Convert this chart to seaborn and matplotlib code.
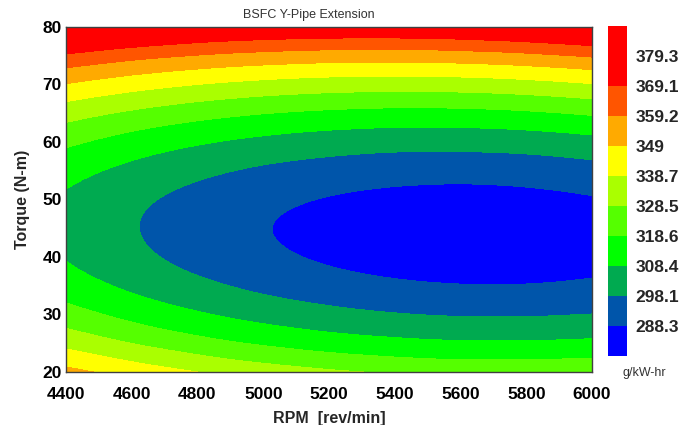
import numpy as np
import pandas as pd
import matplotlib
matplotlib.use("Agg")
import matplotlib.pyplot as plt
import matplotlib.tri as mtri
from matplotlib.colors import ListedColormap, BoundaryNorm
import seaborn as sns

# ---- data (BSFC in g/kW-hr) ----
rpm = [4400, 4600, 4800, 5000, 5200, 5400, 5600, 5800, 6000]
torque = [20, 25, 30, 35, 40, 45, 50, 55, 60, 65, 70, 75, 80]

bsfc_4400 = [352.1, 335.7, 322.8, 313.5, 307.8, 305.6, 307.0, 312.1, 320.6, 332.8, 348.5, 367.8, 390.7]
bsfc_4600 = [344.8, 328.4, 315.6, 306.4, 300.8, 298.8, 300.4, 305.7, 314.5, 326.9, 343.0, 362.6, 385.9]
bsfc_4800 = [338.7, 322.3, 309.6, 300.5, 295.0, 293.2, 295.0, 300.5, 309.6, 322.3, 338.7, 358.7, 382.3]
bsfc_5000 = [333.8, 317.4, 304.8, 295.8, 290.5, 288.8, 290.8, 296.5, 305.9, 318.9, 335.6, 356.0, 380.0]
bsfc_5200 = [330.0, 313.7, 301.2, 292.3, 287.1, 285.6, 287.8, 293.8, 303.4, 316.7, 333.7, 354.4, 378.9]
bsfc_5400 = [327.4, 311.2, 298.7, 289.9, 284.9, 283.5, 286.0, 292.1, 302.0, 315.6, 333.0, 354.1, 378.9]
bsfc_5600 = [325.9, 309.8, 297.4, 288.7, 283.8, 282.7, 285.3, 291.7, 301.9, 315.8, 333.5, 354.9, 380.1]
bsfc_5800 = [325.7, 309.6, 297.3, 288.7, 284.0, 283.0, 285.9, 292.5, 302.9, 317.2, 335.2, 357.0, 382.6]
bsfc_6000 = [326.7, 310.6, 298.3, 289.9, 285.3, 284.6, 287.6, 294.5, 305.2, 319.8, 338.1, 360.3, 386.3]

levels = [288.3, 298.1, 308.4, 318.6, 328.5, 338.7, 349, 359.2, 369.1, 379.3]
level_labels = ["288.3", "298.1", "308.4", "318.6", "328.5", "338.7", "349", "359.2", "369.1", "379.3"]
band_colors = ["#0000FF", "#0055AA", "#00AA50", "#00FF00", "#55FF00", "#AAFF00",
               "#FFFF00", "#FFAA00", "#FF5500", "#FF0000", "#FF0000"]

# ---- build table ----
columns = {4400: bsfc_4400, 4600: bsfc_4600, 4800: bsfc_4800, 5000: bsfc_5000,
           5200: bsfc_5200, 5400: bsfc_5400, 5600: bsfc_5600, 5800: bsfc_5800,
           6000: bsfc_6000}
rows = []
for r in rpm:
    for t, z in zip(torque, columns[r]):
        rows.append({"rpm": r, "torque": t, "bsfc": z})
df = pd.DataFrame(rows)

sns.set_theme(style="white")
plt.rcParams["font.family"] = ["Liberation Sans", "DejaVu Sans"]

fig = plt.figure(figsize=(6.83, 4.25), dpi=100)
ax = fig.add_axes([66 / 683, 1 - 372 / 425, (592 - 66) / 683, (372 - 27) / 425])

zmin = float(df["bsfc"].min()) - 5
zmax = float(df["bsfc"].max()) + 5
bounds = [zmin] + levels + [zmax]
cmap = ListedColormap(band_colors)
norm = BoundaryNorm(bounds, cmap.N)

# triangulate on a normalised grid, let matplotlib's cubic refiner smooth the contours
sx, sy = 200.0, 5.0
tri0 = mtri.Triangulation(df["rpm"].values / sx, df["torque"].values / sy)
interp = mtri.CubicTriInterpolator(tri0, df["bsfc"].values, kind="min_E")
refiner = mtri.UniformTriRefiner(tri0)
tri_f, z_f = refiner.refine_field(df["bsfc"].values, triinterpolator=interp, subdiv=4)
tri_plot = mtri.Triangulation(tri_f.x * sx, tri_f.y * sy, tri_f.triangles)
ax.tricontourf(tri_plot, z_f, levels=bounds, cmap=cmap, norm=norm, antialiased=False)

ax.set_xlim(4400, 6000)
ax.set_ylim(20, 80)
ax.set_xticks(rpm)
ax.set_yticks([20, 30, 40, 50, 60, 70, 80])
ax.tick_params(axis="x", length=0, pad=10.5, labelsize=12.5, colors="black")
ax.tick_params(axis="y", length=0, pad=3, labelsize=12.5, colors="black")
for lab in ax.get_xticklabels() + ax.get_yticklabels():
    lab.set_fontweight("bold")
for sp in ax.spines.values():
    sp.set_color("#404040")
    sp.set_linewidth(1.0)

ax.set_xlabel("RPM  [rev/min]", fontsize=11.5, fontweight="bold", labelpad=7)
ax.set_ylabel("Torque (N-m)", fontsize=11.5, fontweight="bold", labelpad=9)

fig.text(309 / 683, 1 - 15 / 425, "BSFC Y-Pipe Extension", ha="center", va="center",
         fontsize=9, color="#333333")

# ---- colorbar ----
cax = fig.add_axes([608 / 683, 1 - 356 / 425, 19 / 683, (356 - 26) / 425])
nb = len(band_colors)
for i, c in enumerate(band_colors):
    cax.axhspan(i, i + 1, color=c, lw=0)
cax.set_xlim(0, 1)
cax.set_ylim(0, nb)
cax.set_xticks([])
cax.yaxis.tick_right()
cax.set_yticks(list(range(1, len(levels) + 1)))
cax.set_yticklabels(level_labels)
cax.tick_params(axis="y", length=0, pad=6, labelsize=12.5)
for lab in cax.get_yticklabels():
    lab.set_fontweight("bold")
for sp in cax.spines.values():
    sp.set_visible(False)

fig.text(644 / 683, 1 - 373 / 425, "g/kW-hr", ha="center", va="center",
         fontsize=9, color="#333333")

fig.savefig("out.png", dpi=100)
